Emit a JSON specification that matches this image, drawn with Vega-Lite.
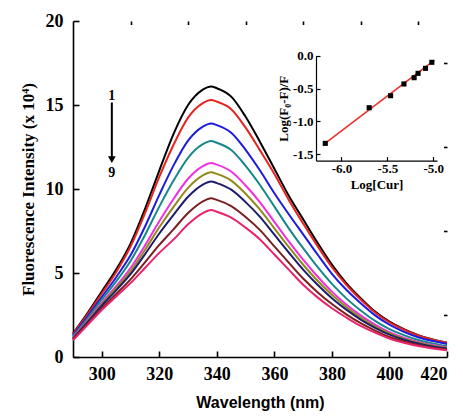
{
"$schema": "https://vega.github.io/schema/vega-lite/v6.json",
"width": 374, "height": 336,
"autosize": {"type": "none"},
"padding": {"left": 73, "top": 21, "right": 16, "bottom": 59},
"background": "white",
"config": {
 "view": {"stroke": null},
 "axis": {"labelFont": "Liberation Serif", "labelFontWeight": "bold", "labelFontSize": 18, "labelColor": "#000", "domainColor": "#000", "tickColor": "#000", "domainWidth": 1.6, "tickWidth": 1.6, "grid": false, "titleColor": "#000"}
},
"datasets": {
 "curves": [
{"c":1,"wl":290,"v":1.4},{"c":1,"wl":295,"v":2.6},{"c":1,"wl":300,"v":3.9},{"c":1,"wl":305,"v":5.2},{"c":1,"wl":310,"v":6.75},{"c":1,"wl":315,"v":8.8},{"c":1,"wl":320,"v":11.1},{"c":1,"wl":325,"v":13.3},{"c":1,"wl":330,"v":15.0},{"c":1,"wl":335,"v":15.9},{"c":1,"wl":338,"v":16.1},{"c":1,"wl":340,"v":16.0},{"c":1,"wl":345,"v":15.5},{"c":1,"wl":350,"v":14.3},{"c":1,"wl":355,"v":12.8},{"c":1,"wl":360,"v":11.2},{"c":1,"wl":365,"v":9.6},{"c":1,"wl":370,"v":8.2},{"c":1,"wl":375,"v":6.8},{"c":1,"wl":380,"v":5.5},{"c":1,"wl":385,"v":4.4},{"c":1,"wl":390,"v":3.5},{"c":1,"wl":395,"v":2.7},{"c":1,"wl":400,"v":2.1},{"c":1,"wl":405,"v":1.65},{"c":1,"wl":410,"v":1.3},{"c":1,"wl":415,"v":1.05},{"c":1,"wl":420,"v":0.85},
{"c":2,"wl":290,"v":1.36},{"c":2,"wl":295,"v":2.52},{"c":2,"wl":300,"v":3.78},{"c":2,"wl":305,"v":5.05},{"c":2,"wl":310,"v":6.58},{"c":2,"wl":315,"v":8.55},{"c":2,"wl":320,"v":10.72},{"c":2,"wl":325,"v":12.65},{"c":2,"wl":330,"v":14.25},{"c":2,"wl":335,"v":15.1},{"c":2,"wl":338,"v":15.3},{"c":2,"wl":340,"v":15.2},{"c":2,"wl":345,"v":14.75},{"c":2,"wl":350,"v":13.65},{"c":2,"wl":355,"v":12.3},{"c":2,"wl":360,"v":10.9},{"c":2,"wl":365,"v":9.35},{"c":2,"wl":370,"v":7.95},{"c":2,"wl":375,"v":6.6},{"c":2,"wl":380,"v":5.35},{"c":2,"wl":385,"v":4.3},{"c":2,"wl":390,"v":3.42},{"c":2,"wl":395,"v":2.65},{"c":2,"wl":400,"v":2.06},{"c":2,"wl":405,"v":1.62},{"c":2,"wl":410,"v":1.28},{"c":2,"wl":415,"v":1.03},{"c":2,"wl":420,"v":0.85},
{"c":3,"wl":290,"v":1.28},{"c":3,"wl":295,"v":2.39},{"c":3,"wl":300,"v":3.57},{"c":3,"wl":305,"v":4.75},{"c":3,"wl":310,"v":6.05},{"c":3,"wl":315,"v":7.75},{"c":3,"wl":320,"v":9.65},{"c":3,"wl":325,"v":11.42},{"c":3,"wl":330,"v":12.88},{"c":3,"wl":335,"v":13.7},{"c":3,"wl":338,"v":13.9},{"c":3,"wl":340,"v":13.8},{"c":3,"wl":345,"v":13.35},{"c":3,"wl":350,"v":12.33},{"c":3,"wl":355,"v":11.1},{"c":3,"wl":360,"v":9.75},{"c":3,"wl":365,"v":8.5},{"c":3,"wl":370,"v":7.3},{"c":3,"wl":375,"v":6.1},{"c":3,"wl":380,"v":4.95},{"c":3,"wl":385,"v":4.0},{"c":3,"wl":390,"v":3.2},{"c":3,"wl":395,"v":2.48},{"c":3,"wl":400,"v":1.92},{"c":3,"wl":405,"v":1.5},{"c":3,"wl":410,"v":1.18},{"c":3,"wl":415,"v":0.95},{"c":3,"wl":420,"v":0.78},
{"c":4,"wl":290,"v":1.22},{"c":4,"wl":295,"v":2.29},{"c":4,"wl":300,"v":3.41},{"c":4,"wl":305,"v":4.5},{"c":4,"wl":310,"v":5.72},{"c":4,"wl":315,"v":7.25},{"c":4,"wl":320,"v":8.95},{"c":4,"wl":325,"v":10.52},{"c":4,"wl":330,"v":11.86},{"c":4,"wl":335,"v":12.65},{"c":4,"wl":338,"v":12.85},{"c":4,"wl":340,"v":12.75},{"c":4,"wl":345,"v":12.32},{"c":4,"wl":350,"v":11.38},{"c":4,"wl":355,"v":10.24},{"c":4,"wl":360,"v":8.95},{"c":4,"wl":365,"v":7.66},{"c":4,"wl":370,"v":6.48},{"c":4,"wl":375,"v":5.36},{"c":4,"wl":380,"v":4.35},{"c":4,"wl":385,"v":3.49},{"c":4,"wl":390,"v":2.77},{"c":4,"wl":395,"v":2.15},{"c":4,"wl":400,"v":1.66},{"c":4,"wl":405,"v":1.3},{"c":4,"wl":410,"v":1.01},{"c":4,"wl":415,"v":0.81},{"c":4,"wl":420,"v":0.65},
{"c":5,"wl":290,"v":1.15},{"c":5,"wl":295,"v":2.17},{"c":5,"wl":300,"v":3.22},{"c":5,"wl":305,"v":4.22},{"c":5,"wl":310,"v":5.3},{"c":5,"wl":315,"v":6.63},{"c":5,"wl":320,"v":8.08},{"c":5,"wl":325,"v":9.42},{"c":5,"wl":330,"v":10.61},{"c":5,"wl":335,"v":11.35},{"c":5,"wl":338,"v":11.55},{"c":5,"wl":340,"v":11.45},{"c":5,"wl":345,"v":11.04},{"c":5,"wl":350,"v":10.21},{"c":5,"wl":355,"v":9.21},{"c":5,"wl":360,"v":8.04},{"c":5,"wl":365,"v":6.88},{"c":5,"wl":370,"v":5.79},{"c":5,"wl":375,"v":4.79},{"c":5,"wl":380,"v":3.89},{"c":5,"wl":385,"v":3.13},{"c":5,"wl":390,"v":2.48},{"c":5,"wl":395,"v":1.93},{"c":5,"wl":400,"v":1.48},{"c":5,"wl":405,"v":1.15},{"c":5,"wl":410,"v":0.9},{"c":5,"wl":415,"v":0.71},{"c":5,"wl":420,"v":0.57},
{"c":6,"wl":290,"v":1.12},{"c":6,"wl":295,"v":2.11},{"c":6,"wl":300,"v":3.14},{"c":6,"wl":305,"v":4.1},{"c":6,"wl":310,"v":5.1},{"c":6,"wl":315,"v":6.37},{"c":6,"wl":320,"v":7.72},{"c":6,"wl":325,"v":8.95},{"c":6,"wl":330,"v":10.07},{"c":6,"wl":335,"v":10.8},{"c":6,"wl":338,"v":11.0},{"c":6,"wl":340,"v":10.9},{"c":6,"wl":345,"v":10.5},{"c":6,"wl":350,"v":9.72},{"c":6,"wl":355,"v":8.77},{"c":6,"wl":360,"v":7.66},{"c":6,"wl":365,"v":6.55},{"c":6,"wl":370,"v":5.49},{"c":6,"wl":375,"v":4.54},{"c":6,"wl":380,"v":3.7},{"c":6,"wl":385,"v":2.98},{"c":6,"wl":390,"v":2.35},{"c":6,"wl":395,"v":1.83},{"c":6,"wl":400,"v":1.41},{"c":6,"wl":405,"v":1.09},{"c":6,"wl":410,"v":0.85},{"c":6,"wl":415,"v":0.67},{"c":6,"wl":420,"v":0.54},
{"c":7,"wl":290,"v":1.09},{"c":7,"wl":295,"v":2.06},{"c":7,"wl":300,"v":3.05},{"c":7,"wl":305,"v":3.97},{"c":7,"wl":310,"v":4.93},{"c":7,"wl":315,"v":6.11},{"c":7,"wl":320,"v":7.35},{"c":7,"wl":325,"v":8.47},{"c":7,"wl":330,"v":9.54},{"c":7,"wl":335,"v":10.25},{"c":7,"wl":338,"v":10.45},{"c":7,"wl":340,"v":10.35},{"c":7,"wl":345,"v":9.96},{"c":7,"wl":350,"v":9.22},{"c":7,"wl":355,"v":8.34},{"c":7,"wl":360,"v":7.28},{"c":7,"wl":365,"v":6.22},{"c":7,"wl":370,"v":5.2},{"c":7,"wl":375,"v":4.3},{"c":7,"wl":380,"v":3.5},{"c":7,"wl":385,"v":2.82},{"c":7,"wl":390,"v":2.23},{"c":7,"wl":395,"v":1.74},{"c":7,"wl":400,"v":1.33},{"c":7,"wl":405,"v":1.03},{"c":7,"wl":410,"v":0.8},{"c":7,"wl":415,"v":0.63},{"c":7,"wl":420,"v":0.5},
{"c":8,"wl":290,"v":1.04},{"c":8,"wl":295,"v":1.97},{"c":8,"wl":300,"v":2.9},{"c":8,"wl":305,"v":3.75},{"c":8,"wl":310,"v":4.62},{"c":8,"wl":315,"v":5.63},{"c":8,"wl":320,"v":6.67},{"c":8,"wl":325,"v":7.61},{"c":8,"wl":330,"v":8.57},{"c":8,"wl":335,"v":9.25},{"c":8,"wl":338,"v":9.45},{"c":8,"wl":340,"v":9.35},{"c":8,"wl":345,"v":8.98},{"c":8,"wl":350,"v":8.33},{"c":8,"wl":355,"v":7.55},{"c":8,"wl":360,"v":6.58},{"c":8,"wl":365,"v":5.62},{"c":8,"wl":370,"v":4.67},{"c":8,"wl":375,"v":3.86},{"c":8,"wl":380,"v":3.15},{"c":8,"wl":385,"v":2.54},{"c":8,"wl":390,"v":2.01},{"c":8,"wl":395,"v":1.57},{"c":8,"wl":400,"v":1.19},{"c":8,"wl":405,"v":0.93},{"c":8,"wl":410,"v":0.71},{"c":8,"wl":415,"v":0.55},{"c":8,"wl":420,"v":0.44},
{"c":9,"wl":290,"v":1.0},{"c":9,"wl":295,"v":1.9},{"c":9,"wl":300,"v":2.8},{"c":9,"wl":305,"v":3.6},{"c":9,"wl":310,"v":4.4},{"c":9,"wl":315,"v":5.3},{"c":9,"wl":320,"v":6.2},{"c":9,"wl":325,"v":7.0},{"c":9,"wl":330,"v":7.9},{"c":9,"wl":335,"v":8.55},{"c":9,"wl":338,"v":8.75},{"c":9,"wl":340,"v":8.65},{"c":9,"wl":345,"v":8.3},{"c":9,"wl":350,"v":7.7},{"c":9,"wl":355,"v":7.0},{"c":9,"wl":360,"v":6.1},{"c":9,"wl":365,"v":5.2},{"c":9,"wl":370,"v":4.3},{"c":9,"wl":375,"v":3.55},{"c":9,"wl":380,"v":2.9},{"c":9,"wl":385,"v":2.35},{"c":9,"wl":390,"v":1.85},{"c":9,"wl":395,"v":1.45},{"c":9,"wl":400,"v":1.1},{"c":9,"wl":405,"v":0.85},{"c":9,"wl":410,"v":0.65},{"c":9,"wl":415,"v":0.5},{"c":9,"wl":420,"v":0.4}
 ],
 "arrow": [{"wl": 303.5, "top": 15.15, "bottom": 11.9, "head": 11.75}],
 "labels": [{"wl": 303.5, "v": 15.55, "t": "1"}, {"wl": 303.5, "v": 10.95, "t": "9"}],
 "fit": [{"lx": -6.2, "ly": -1.36}, {"lx": -4.99, "ly": -0.07}],
 "pts": [{"lx": -6.176, "ly": -1.337}, {"lx": -5.698, "ly": -0.793}, {"lx": -5.465, "ly": -0.61}, {"lx": -5.32, "ly": -0.431}, {"lx": -5.209, "ly": -0.335}, {"lx": -5.166, "ly": -0.268}, {"lx": -5.085, "ly": -0.192}, {"lx": -5.016, "ly": -0.1}]
},
"layer": [
 {
  "layer": [
   {
    "data": {"name": "curves"},
    "mark": {"type": "line", "strokeWidth": 2, "interpolate": "monotone"},
    "encoding": {
     "x": {"field": "wl", "type": "quantitative", "scale": {"domain": [290, 420], "nice": false, "zero": false},
      "axis": {"values": [300, 320, 340, 360, 380, 400, 420], "tickSize": -6, "labelPadding": 14, "title": "Wavelength (nm)", "titleFont": "Liberation Sans", "titleFontSize": 16, "titleFontWeight": "bold", "titlePadding": 11}},
     "y": {"field": "v", "type": "quantitative", "scale": {"domain": [0, 20], "nice": false},
      "axis": {"values": [0, 5, 10, 15, 20], "tickSize": -6, "labelPadding": 16, "title": "Fluorescence Intensity (x 10⁴)", "titleFont": "Liberation Serif", "titleFontSize": 17, "titleFontWeight": "bold", "titlePadding": 8}},
     "color": {"field": "c", "type": "nominal", "legend": null,
      "scale": {"domain": [1, 2, 3, 4, 5, 6, 7, 8, 9], "range": ["#000000", "#e8231f", "#1c1ce0", "#17878a", "#f22ee0", "#8f8a1a", "#1d1d6b", "#7c1f1f", "#e8246c"]}}
    }
   },
   {
    "data": {"name": "arrow"},
    "mark": {"type": "rule", "strokeWidth": 2, "color": "#000"},
    "encoding": {
     "x": {"field": "wl", "type": "quantitative", "axis": {"values": [310, 330, 350, 370, 390, 410], "tickSize": -3.5, "labels": false, "domain": false, "title": null}},
     "y": {"field": "top", "type": "quantitative", "axis": {"values": [2.5, 7.5, 12.5, 17.5], "tickSize": -3.5, "labels": false, "domain": false, "title": null}},
     "y2": {"field": "bottom"}
    }
   },
   {
    "data": {"name": "arrow"},
    "mark": {"type": "point", "shape": "triangle-down", "filled": true, "color": "#000", "size": 60, "opacity": 1},
    "encoding": {
     "x": {"field": "wl", "type": "quantitative", "axis": null},
     "y": {"field": "head", "type": "quantitative", "axis": null}
    }
   },
   {
    "data": {"name": "labels"},
    "mark": {"type": "text", "font": "Liberation Serif", "fontWeight": "bold", "fontSize": 14, "color": "#000"},
    "encoding": {
     "x": {"field": "wl", "type": "quantitative", "axis": null},
     "y": {"field": "v", "type": "quantitative", "axis": null},
     "text": {"field": "t"}
    }
   }
  ],
  "resolve": {"axis": {"x": "independent", "y": "independent"}}
 },
 {
  "layer": [
   {
    "data": {"name": "fit"},
    "mark": {"type": "line", "color": "#e8322e", "strokeWidth": 1.6},
    "encoding": {
     "x": {"field": "lx", "type": "quantitative", "scale": {"domain": [-6.277, -4.96], "range": [243, 364], "nice": false, "zero": false},
      "axis": {"values": [-6.0, -5.5, -5.0], "format": ".1f", "labelExpr": "replace(datum.label, '−', '-')", "tickSize": -4, "labelPadding": 6, "labelFontSize": 13, "offset": -196.4, "domainWidth": 1.2, "tickWidth": 1.2, "title": "Log[Cur]", "titleFont": "Liberation Serif", "titleFontSize": 13, "titleFontWeight": "bold", "titlePadding": 3}},
     "y": {"field": "ly", "type": "quantitative", "scale": {"domain": [-1.6, 0.0], "range": [139.6, 34.75], "nice": false, "zero": false},
      "axis": {"values": [0, -0.5, -1.0, -1.5], "format": ".1f", "labelExpr": "replace(datum.label, '−', '-')", "tickSize": -4, "labelPadding": 7, "labelFontSize": 13, "offset": -243, "domainWidth": 1.2, "tickWidth": 1.2, "title": "Log(F₀-F)/F", "titleFont": "Liberation Serif", "titleFontSize": 13, "titleFontWeight": "bold", "titlePadding": 2}}
    }
   },
   {
    "data": {"name": "pts"},
    "mark": {"type": "square", "filled": true, "color": "#000", "size": 26, "opacity": 1},
    "encoding": {
     "x": {"field": "lx", "type": "quantitative"},
     "y": {"field": "ly", "type": "quantitative"}
    }
   }
  ]
 }
],
"resolve": {"scale": {"x": "independent", "y": "independent"}, "axis": {"x": "independent", "y": "independent"}}
}
